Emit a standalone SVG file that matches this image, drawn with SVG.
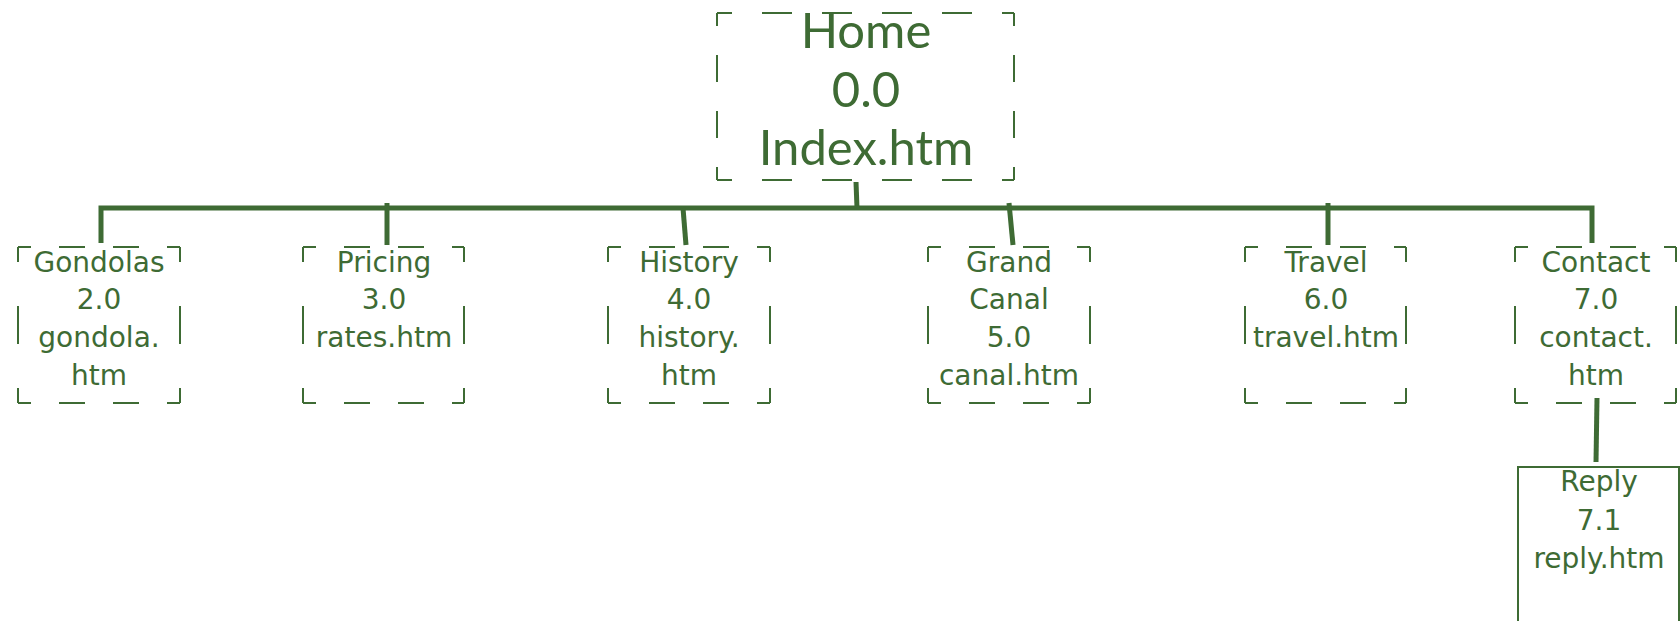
<svg xmlns="http://www.w3.org/2000/svg" width="1680" height="621" viewBox="0 0 1680 621">
<style>
.b{stroke:#3e6b34;stroke-width:2;fill:none}
.ct{stroke-dasharray:13 28 26 28 26 28 13}
.cs{stroke-dasharray:15 44 38 44 15}
.ht{stroke-dasharray:30 30;stroke-dashoffset:15}
.hs{stroke-dasharray:13 29 27 29 27 29 13}
.c{stroke:#3e6b34;stroke-width:5;fill:none}
text{fill:#3e6b34;text-anchor:middle}
.t{font-family:"DejaVu Sans",sans-serif;font-size:28px}
.h{font-family:Lato,sans-serif;font-size:49px}
</style>
<rect width="1680" height="621" fill="#fff"/>
<g id="connectors">
<polyline class="c" points="101,243 101,208 1592,208 1592,243"/>
<line class="c" x1="387" y1="203" x2="387" y2="245"/>
<line class="c" x1="683" y1="208" x2="686" y2="245"/>
<line class="c" x1="856" y1="182" x2="857" y2="208"/>
<line class="c" x1="1009" y1="203" x2="1013" y2="245"/>
<line class="c" x1="1328" y1="203" x2="1328" y2="245"/>
<line class="c" x1="1597" y1="398" x2="1596" y2="462"/>
</g>
<g id="home">
<line class="b ht" x1="717" y1="13" x2="1014" y2="13"/>
<line class="b ht" x1="717" y1="180" x2="1014" y2="180"/>
<line class="b hs" x1="717" y1="13" x2="717" y2="180"/>
<line class="b hs" x1="1014" y1="13" x2="1014" y2="180"/>
<text class="h" x="866" y="48">Home</text>
<text class="h" x="866" y="107">0.0</text>
<text class="h" x="866" y="165">Index.htm</text>
</g>
<g id="gondolas">
<line class="b ct" x1="18" y1="247" x2="180" y2="247"/>
<line class="b ct" x1="18" y1="403" x2="180" y2="403"/>
<line class="b cs" x1="18" y1="247" x2="18" y2="403"/>
<line class="b cs" x1="180" y1="247" x2="180" y2="403"/>
<text class="t" x="99" y="272">Gondolas</text>
<text class="t" x="99" y="309">2.0</text>
<text class="t" x="99" y="347">gondola.</text>
<text class="t" x="99" y="385">htm</text>
</g>
<g id="pricing">
<line class="b ct" x1="303" y1="247" x2="464" y2="247"/>
<line class="b ct" x1="303" y1="403" x2="464" y2="403"/>
<line class="b cs" x1="303" y1="247" x2="303" y2="403"/>
<line class="b cs" x1="464" y1="247" x2="464" y2="403"/>
<text class="t" x="384" y="272">Pricing</text>
<text class="t" x="384" y="309">3.0</text>
<text class="t" x="384" y="347">rates.htm</text>
</g>
<g id="history">
<line class="b ct" x1="608" y1="247" x2="770" y2="247"/>
<line class="b ct" x1="608" y1="403" x2="770" y2="403"/>
<line class="b cs" x1="608" y1="247" x2="608" y2="403"/>
<line class="b cs" x1="770" y1="247" x2="770" y2="403"/>
<text class="t" x="689" y="272">History</text>
<text class="t" x="689" y="309">4.0</text>
<text class="t" x="689" y="347">history.</text>
<text class="t" x="689" y="385">htm</text>
</g>
<g id="grandcanal">
<line class="b ct" x1="928" y1="247" x2="1090" y2="247"/>
<line class="b ct" x1="928" y1="403" x2="1090" y2="403"/>
<line class="b cs" x1="928" y1="247" x2="928" y2="403"/>
<line class="b cs" x1="1090" y1="247" x2="1090" y2="403"/>
<text class="t" x="1009" y="272">Grand</text>
<text class="t" x="1009" y="309">Canal</text>
<text class="t" x="1009" y="347">5.0</text>
<text class="t" x="1009" y="385">canal.htm</text>
</g>
<g id="travel">
<line class="b ct" x1="1245" y1="247" x2="1406" y2="247"/>
<line class="b ct" x1="1245" y1="403" x2="1406" y2="403"/>
<line class="b cs" x1="1245" y1="247" x2="1245" y2="403"/>
<line class="b cs" x1="1406" y1="247" x2="1406" y2="403"/>
<text class="t" x="1326" y="272">Travel</text>
<text class="t" x="1326" y="309">6.0</text>
<text class="t" x="1326" y="347">travel.htm</text>
</g>
<g id="contact">
<line class="b ct" x1="1515" y1="247" x2="1676" y2="247"/>
<line class="b ct" x1="1515" y1="403" x2="1676" y2="403"/>
<line class="b cs" x1="1515" y1="247" x2="1515" y2="403"/>
<line class="b cs" x1="1676" y1="247" x2="1676" y2="403"/>
<text class="t" x="1596" y="272">Contact</text>
<text class="t" x="1596" y="309">7.0</text>
<text class="t" x="1596" y="347">contact.</text>
<text class="t" x="1596" y="385">htm</text>
</g>
<g id="reply">
<rect class="b" x="1518" y="467" width="161" height="170"/>
<text class="t" x="1599" y="491">Reply</text>
<text class="t" x="1599" y="530">7.1</text>
<text class="t" x="1599" y="568">reply.htm</text>
</g>
</svg>
